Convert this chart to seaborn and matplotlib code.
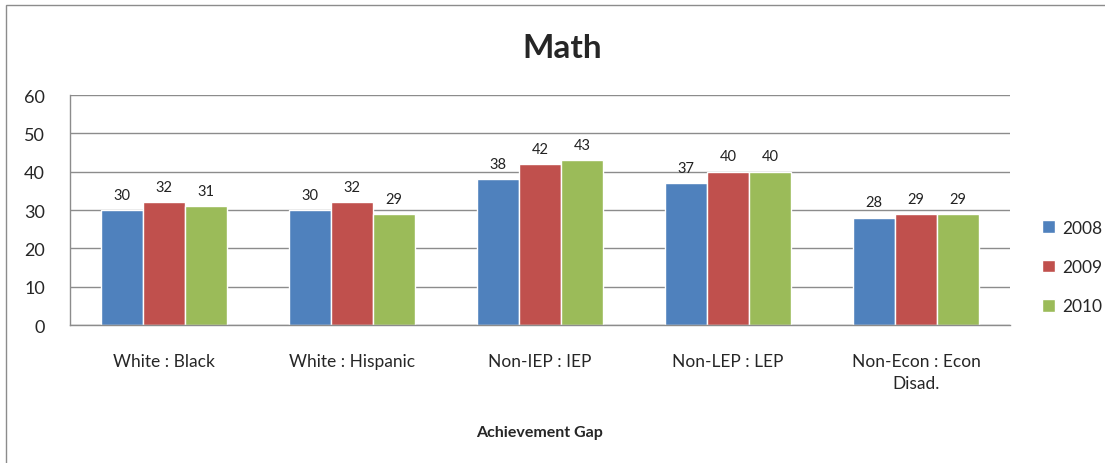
import numpy as np
import pandas as pd
import matplotlib
matplotlib.use("Agg")
import matplotlib.pyplot as plt
from matplotlib.patches import Rectangle
import seaborn as sns

categories = ["White : Black", "White : Hispanic", "Non-IEP : IEP", "Non-LEP : LEP", "Non-Econ : Econ\nDisad."]
years = ["2008", "2009", "2010"]
gap_2008 = [30, 30, 38, 37, 28]
gap_2009 = [32, 32, 42, 40, 29]
gap_2010 = [31, 29, 43, 40, 29]
colors = ["#4F81BD", "#C0504D", "#9BBB59"]

df = pd.DataFrame({
    "gap": categories * 3,
    "year": np.repeat(years, len(categories)),
    "value": gap_2008 + gap_2009 + gap_2010,
})

sns.set_style("white")
plt.rcParams["font.family"] = ["Lato", "DejaVu Sans"]

fig = plt.figure(figsize=(11.05, 4.64), dpi=100)
ax = fig.add_axes([0.0633, 0.2974, 0.8507, 0.4956])

sns.barplot(data=df, x="gap", y="value", hue="year", palette=colors,
            width=0.67, gap=0, saturation=1, ax=ax, legend=True)

# value labels above each bar
for cont in ax.containers:
    ax.bar_label(cont, padding=6, fontsize=10.5, color="#222222")

ax.set_ylim(0, 60)
ax.set_yticks(range(0, 61, 10))
ax.yaxis.grid(True, color="#8c8c8c", linewidth=1)
ax.set_axisbelow(True)
for s in ["top", "right"]:
    ax.spines[s].set_visible(False)
for s in ["left", "bottom"]:
    ax.spines[s].set_color("#8c8c8c")
    ax.spines[s].set_linewidth(1)
ax.tick_params(axis="y", labelsize=13, pad=18, length=0)
ax.tick_params(axis="x", labelsize=12.5, pad=20, length=0)
for lbl in ax.get_xticklabels():
    lbl.set_linespacing(1.5)
ax.set_ylabel("")
ax.set_xlabel("Achievement Gap", fontsize=11.5, fontweight="bold", labelpad=24)
fig.text(0.509, 0.895, "Math", ha="center", va="center", fontsize=24, fontweight="bold")

leg = ax.legend(loc="center left", bbox_to_anchor=(1.034, 0.252), frameon=False,
                fontsize=12.5, handlelength=0.75, handleheight=0.75, handletextpad=0.4,
                labelspacing=1.35, borderaxespad=0, borderpad=0)

# outer chart border (left and top edges visible)
fig.patches.append(Rectangle((6 / 1105, -0.1), 1.2, 1 - 6 / 464 + 0.1,
                             transform=fig.transFigure, fill=False,
                             edgecolor="#8c8c8c", linewidth=1))

fig.savefig("out.png", dpi=100, facecolor="white")
